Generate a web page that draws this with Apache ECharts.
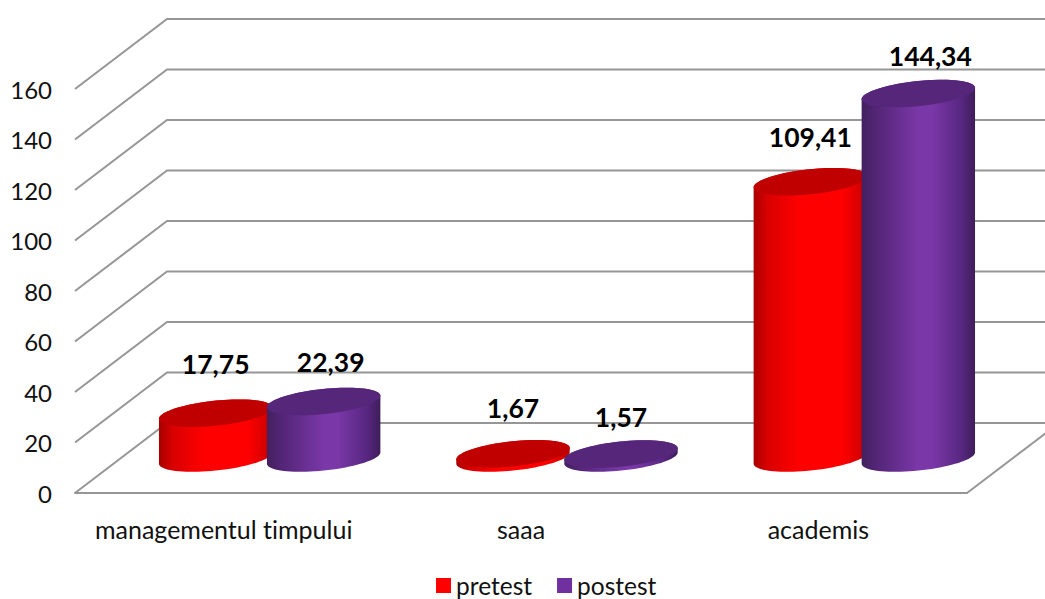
<!DOCTYPE html>
<html>
<head>
<meta charset="utf-8">
<style>html,body{margin:0;padding:0;background:#fff}#chart{width:1045px;height:599px}#chart text{font-variant-ligatures:none}</style>
<script src="https://cdn.jsdelivr.net/npm/echarts@6/dist/echarts.min.js"></script>
</head>
<body>
<div id="chart"></div>
<script>
// Chart values
const categories = ['managementul timpului', 'saaa', 'academis'];
const pretest = [17.75, 1.67, 109.41];
const postest = [22.39, 1.57, 144.34];
const yTicks = [0, 20, 40, 60, 80, 100, 120, 140, 160];

// Oblique projection of the chart box
const WALL_DX = 92, WALL_DY = -70;      // front edge to back wall
const ROW_DX = 46, ROW_DY = -35;        // front edge to the row of cylinders
const BAR_SHIFT = 54;                   // half the distance between neighbouring cylinders
const RX = 57, RY = 12.5, TILT = 6 * Math.PI / 180;
const GRID_COLOR = '#969696';
const FONT = 'Lato, "Open Sans", sans-serif';

// Nudges of the value labels, relative to the cylinder's top centre
const pretestLabelNudge = [[0, -49], [0, -46], [0, -45]];
const postestLabelNudge = [[7, -39], [0, -37], [12, -38]];

function ellipsePoint(cx, cy, t) {
  const ex = RX * Math.cos(t), ey = RY * Math.sin(t);
  return [cx + ex * Math.cos(TILT) + ey * Math.sin(TILT),
          cy - ex * Math.sin(TILT) + ey * Math.cos(TILT)];
}
function ellipseArc(cx, cy, from, to, steps) {
  const pts = [];
  for (let i = 0; i <= steps; i++) pts.push(ellipsePoint(cx, cy, from + (to - from) * i / steps));
  return pts;
}

// Back wall, side wall and floor
function renderFrame(params, api) {
  const box = params.coordSys;
  const y = api.coord([0, api.value(1)])[1];
  const line = { stroke: GRID_COLOR, lineWidth: 2, fill: null };
  const children = [
    { type: 'polyline', shape: { points: [
        [box.x, y], [box.x + WALL_DX, y + WALL_DY], [box.x + box.width + WALL_DX, y + WALL_DY]
      ] }, style: line }
  ];
  if (api.value(1) === 0) {
    children.push({ type: 'line', shape: {
      x1: box.x + box.width, y1: y,
      x2: box.x + box.width + WALL_DX, y2: y + WALL_DY
    }, style: line });
  }
  return { type: 'group', children };
}

function cylinderRenderer(side, stops, topColor, nudges) {
  return function (params, api) {
    const cat = api.value(0), val = api.value(1);
    const top = api.coord([cat, val]), base = api.coord([cat, 0]);
    const cx = top[0] + ROW_DX + side * BAR_SHIFT;
    const cyTop = top[1] + ROW_DY, cyBase = base[1] + ROW_DY;
    // parameter at which the tilted ellipse reaches its rightmost point
    const t0 = Math.atan2(RY * Math.sin(TILT), RX * Math.cos(TILT));
    const body = ellipseArc(cx, cyBase, t0, t0 + Math.PI, 40)
      .concat(ellipseArc(cx, cyTop, t0 + Math.PI, t0 + 2 * Math.PI, 40));
    const nudge = nudges[cat];
    return {
      type: 'group',
      children: [
        { type: 'polygon', shape: { points: body },
          style: { fill: new echarts.graphic.LinearGradient(0, 0, 1, 0, stops) } },
        { type: 'polygon', shape: { points: ellipseArc(cx, cyTop, 0, 2 * Math.PI, 80) },
          style: { fill: topColor } },
        { type: 'text', x: cx + nudge[0], y: cyTop + nudge[1],
          style: {
            text: val.toFixed(2).replace('.', ','),
            align: 'center', verticalAlign: 'middle',
            font: 'bold 26.5px ' + FONT, fill: '#000'
          } }
      ]
    };
  };
}

const redStops = [
  { offset: 0, color: '#a80000' }, { offset: 0.12, color: '#d80000' },
  { offset: 0.4, color: '#ff0000' }, { offset: 0.78, color: '#ff0000' },
  { offset: 0.93, color: '#d80000' }, { offset: 1, color: '#b40000' }
];
const purpleStops = [
  { offset: 0, color: '#43205f' }, { offset: 0.15, color: '#552679' },
  { offset: 0.5, color: '#7a37a8' }, { offset: 0.62, color: '#7a37a8' },
  { offset: 0.88, color: '#572781' }, { offset: 1, color: '#3f1d5a' }
];

const chart = echarts.init(document.getElementById('chart'), null, { renderer: 'svg' });
chart.setOption({
  animation: false,
  backgroundColor: '#fff',
  grid: { left: 75, right: 78, top: 89, bottom: 106 },
  xAxis: {
    type: 'category', data: categories,
    axisTick: { show: false },
    axisLine: { show: true, lineStyle: { color: GRID_COLOR, width: 2 } },
    axisLabel: { color: '#111', fontFamily: FONT, fontSize: 25, margin: 23, interval: 0 }
  },
  yAxis: {
    type: 'value', min: 0, max: 160, interval: 20,
    axisLine: { show: false }, axisTick: { show: false }, splitLine: { show: false },
    axisLabel: { color: '#111', fontFamily: FONT, fontSize: 24, margin: 23 }
  },
  legend: {
    data: ['pretest', 'postest'],
    top: 568, left: 431,
    icon: 'rect', itemWidth: 15, itemHeight: 15, itemGap: 25,
    textStyle: { color: '#111', fontFamily: FONT, fontSize: 24.5 }
  },
  series: [
    { type: 'custom', name: 'frame', z: 1, silent: true, clip: false,
      data: yTicks.map(t => [0, t]), renderItem: renderFrame },
    { type: 'custom', name: 'pretest', z: 2, clip: false, itemStyle: { color: '#ff0000' },
      data: pretest.map((v, i) => [i, v]),
      renderItem: cylinderRenderer(-1, redStops, '#c00000', pretestLabelNudge) },
    { type: 'custom', name: 'postest', z: 3, clip: false, itemStyle: { color: '#7030a0' },
      data: postest.map((v, i) => [i, v]),
      renderItem: cylinderRenderer(1, purpleStops, '#55267a', postestLabelNudge) }
  ]
});
</script>
</body>
</html>
